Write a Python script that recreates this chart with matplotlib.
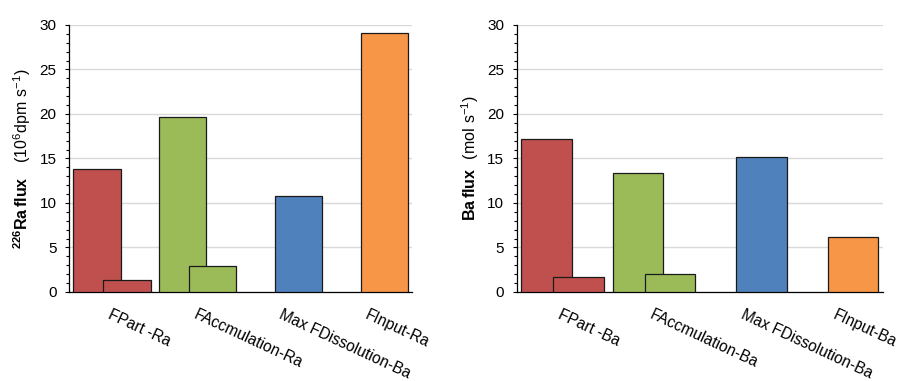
import numpy as np
import matplotlib
matplotlib.use('Agg')
import matplotlib.pyplot as plt
from matplotlib.ticker import MultipleLocator

plt.rcParams['font.family'] = ['Liberation Sans', 'DejaVu Sans']
plt.rcParams['mathtext.fontset'] = 'custom'
plt.rcParams['mathtext.rm'] = 'Liberation Sans'
plt.rcParams['mathtext.bf'] = 'Liberation Sans:bold'

# Data
ra_labels = ['FPart -Ra', 'FAccmulation-Ra', 'Max FDissolution-Ba', 'FInput-Ra']
ra_first = [13.8, 19.7, 0, 0]
ra_second = [1.4, 2.9, 10.8, 29.1]

ba_labels = ['FPart -Ba', 'FAccmulation-Ba', 'Max FDissolution-Ba', 'FInput-Ba']
ba_first = [17.2, 13.4, 0, 0]
ba_second = [1.7, 2.0, 15.2, 6.2]

colors = ['#C0504D', '#9BBB59', '#4F81BD', '#F79646']

fig = plt.figure(figsize=(9.01, 3.81), dpi=100)
ax1 = fig.add_axes([0.0766, 0.2336, 0.381, 0.7008])
ax2 = fig.add_axes([0.5735, 0.2336, 0.406, 0.7008])


def draw(ax, labels, first, second, ylabel, label_x):
    x = np.arange(len(labels))
    w = 0.55
    for i in x:
        if first[i] > 0:
            ax.bar(i - 0.175, first[i], w, color=colors[i], edgecolor='#1a1a1a', linewidth=0.9, zorder=3)
        if second[i] > 0:
            ax.bar(i + 0.175, second[i], w, color=colors[i], edgecolor='#1a1a1a', linewidth=0.9, zorder=3)
    ax.set_xlim(-0.5, len(labels) - 0.5)
    ax.set_ylim(0, 30)
    ax.yaxis.set_major_locator(MultipleLocator(5))
    ax.yaxis.set_minor_locator(MultipleLocator(1))
    ax.grid(axis='y', color='#d9d9d9', linewidth=1.0, zorder=0)
    ax.set_axisbelow(True)
    for s in ['top', 'right']:
        ax.spines[s].set_visible(False)
    ax.spines['left'].set_color('black')
    ax.spines['bottom'].set_color('black')
    ax.spines['left'].set_linewidth(0.9)
    ax.spines['bottom'].set_linewidth(0.9)
    ax.tick_params(axis='y', which='major', length=3, width=0.8, direction='out', pad=6, labelsize=11)
    ax.tick_params(axis='y', which='minor', length=2, width=0.8, direction='out')
    ax.set_xticks(x)
    ax.set_xticklabels(labels, rotation=-25, ha='left', va='top', rotation_mode='anchor', fontsize=11.2)
    ax.tick_params(axis='x', length=0, pad=11)
    ax.set_ylabel(ylabel, fontsize=11.5, va='center')
    ax.yaxis.set_label_coords(label_x, 0.5)


draw(ax1, ra_labels, ra_first, ra_second,
     r'$\mathbf{^{226}Ra\,flux}\ \ \ \mathrm{(10^{6}dpm\ s^{-1})}$', -0.137)
draw(ax2, ba_labels, ba_first, ba_second,
     r'$\mathbf{Ba\,flux}\ \ \mathrm{(mol\ s^{-1})}$', -0.126)

fig.savefig('out.png', dpi=100)
